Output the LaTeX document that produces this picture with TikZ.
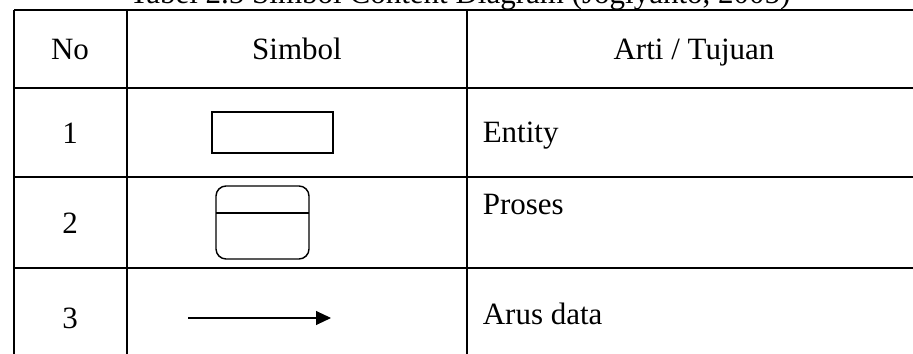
\documentclass[tikz,border=0pt]{standalone}
\usepackage{fontspec}
\setmainfont{Liberation Serif}
\usetikzlibrary{arrows.meta}

\begin{document}
\begin{tikzpicture}[x=0.387pt,y=-0.387pt,semithick,
                    font=\fontsize{12}{14}\selectfont]

  \tikzstyle{grid}=[line width=0.8pt]
  \tikzstyle{cell}=[anchor=base,inner sep=0pt]
  \tikzstyle{desc}=[anchor=base west,inner sep=0pt]
  \tikzstyle{symbol}=[line width=0.55pt]

  \useasboundingbox (0,0) rectangle (913,354);
  \clip (0,0) rectangle (913,354);

  \node[cell] (TTL) at (460,4) {Tabel 2.5 Simbol Content Diagram (Jogiyanto, 2005)};

  % table lines
  \foreach \y in {10,88,177,268} \draw[grid] (14,\y) -- (913,\y);
  \foreach \x in {14,127,467}    \draw[grid] (\x,10) -- (\x,354);

  \node[cell] (NO)  at (70,60)  {No};
  \node[cell] (SYM) at (297,60) {Simbol};
  \node[cell] (ART) at (694,60) {Arti / Tujuan};

  \node[cell] (NR1) at (70,144) {1};
  \node[cell] (NR2) at (70,234) {2};
  \node[cell] (NR3) at (70,329) {3};

  \node[desc] (ENT) at (482,143) {Entity};
  \node[desc] (PRO) at (482,215) {Proses};
  \node[desc] (ARU) at (482,325) {Arus data};

  % symbols
  \draw[symbol,line width=0.65pt] (212,112) rectangle (333,153);
  \draw[symbol,rounded corners=3.9pt] (216,186) rectangle (309,259);
  \draw[symbol] (216,213) -- (309,213);

  \coordinate (AS) at (188,318);
  \coordinate (AE) at (331,318);
  \draw[symbol,line width=0.4pt,-{Triangle[length=5.8pt,width=5.4pt]}] (AS) -- (AE);
\end{tikzpicture}
\end{document}
